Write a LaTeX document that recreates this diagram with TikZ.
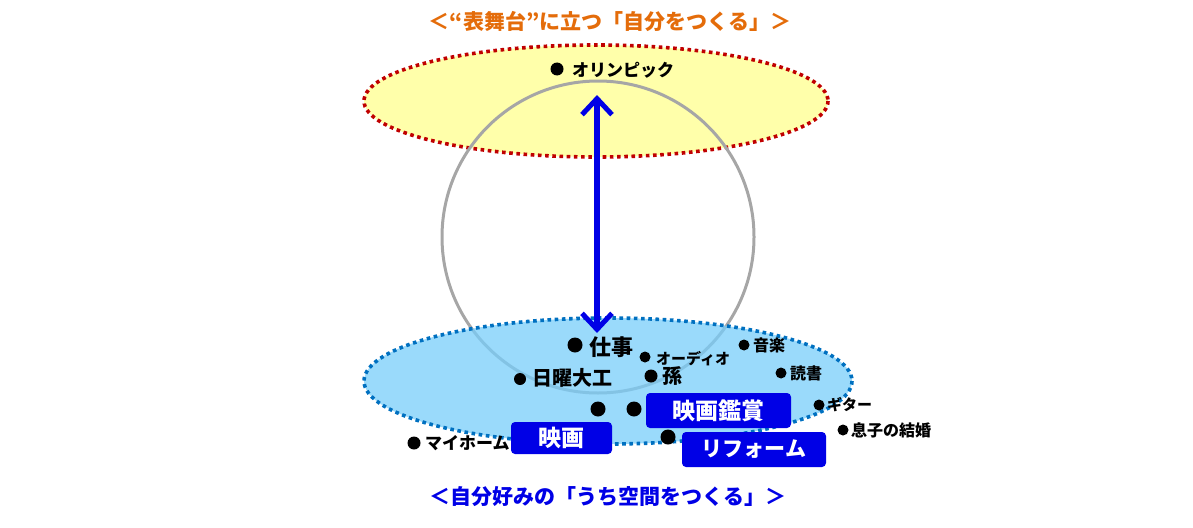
\documentclass[tikz,border=0pt]{standalone}
\usepackage{fontspec}
\setmainfont{Noto Sans CJK JP}
\usetikzlibrary{arrows.meta}
\definecolor{ttlorange}{RGB}{228,108,10}
\definecolor{ttlblue}{RGB}{0,0,230}
\definecolor{yfill}{RGB}{255,255,170}
\definecolor{ydot}{RGB}{192,0,0}
\definecolor{bfill}{RGB}{120,205,250}
\definecolor{bdot}{RGB}{0,112,192}
\definecolor{cgray}{RGB}{166,166,166}
\definecolor{boxblue}{RGB}{0,0,230}
\newcommand{\fs}[1]{\fontsize{#1}{#1}\selectfont\bfseries}
\tikzset{
  pdot/.style={circle,fill=black,inner sep=0pt,minimum size=#1},
  lbl/.style={anchor=west,inner sep=0pt,font=\fs{#1}},
  bbox/.style={draw=none,fill=boxblue,rounded corners=4pt,text=white,font=\fs{21},inner sep=0pt},
  ellb/.style={line width=3.6pt,dash pattern=on 3.6pt off 3.6pt},
  barb/.tip={Straight Barb[length=16pt,width=30pt,line width=5pt]},
}
\begin{document}
\begin{tikzpicture}[x=1pt,y=-1pt]
\useasboundingbox (0,0) rectangle (1193,527);
% yellow ellipse
\draw[ellb,draw=ydot,fill=yfill] (596,101) ellipse [x radius=232, y radius=56];
% gray circle
\draw[cgray,line width=3pt] (598,237) circle [radius=156];
% blue ellipse
\draw[ellb,draw=bdot,fill=bfill,fill opacity=0.75] (608,381) ellipse [x radius=244, y radius=63];
% titles
\node[font=\fs{21},text=ttlorange] (ttop) at (610,21) {＜“表舞台”に立つ「自分をつくる」＞};
\node[font=\fs{21},text=ttlblue] (tbot) at (608,497) {＜自分好みの「うち空間をつくる」＞};
% arrow
\coordinate (atop) at (597,95);
\coordinate (abot) at (597,333);
\draw[boxblue,line width=6pt,{barb}-{barb}] (atop) -- (abot);
% labels
\node[pdot=13pt] (d1) at (557,69) {};
\node[lbl=17] (l1) at (572,70) {オリンピック};
\node[pdot=15pt] (d2) at (575,345) {};
\node[lbl=22] (l2) at (589,347) {仕事};
\node[pdot=11pt] (d3) at (645,357) {};
\node[lbl=15] (l3) at (656,359) {オーディオ};
\node[pdot=11pt] (d4) at (744,345) {};
\node[lbl=16] (l4) at (753,345) {音楽};
\node[pdot=11pt] (d5) at (781,373) {};
\node[lbl=16] (l5) at (790,373) {読書};
\node[pdot=12pt] (d6) at (520,379) {};
\node[lbl=20] (l6) at (532,378) {日曜大工};
\node[pdot=13pt] (d7) at (651,376) {};
\node[lbl=20] (l7) at (662,376) {孫};
\node[pdot=15pt] (d8) at (598,409) {};
\node[pdot=15pt] (d9) at (634,409) {};
\node[pdot=11pt] (d10) at (819,405) {};
\node[lbl=15] (l10) at (827,405) {ギター};
\node[pdot=11pt] (d11) at (843,430) {};
\node[lbl=16] (l11) at (851,430) {息子の結婚};
\node[pdot=13pt] (d12) at (414,443) {};
\node[lbl=17] (l12) at (425,443) {マイホーム};
\node[pdot=15pt] (d13) at (668,437) {};
% boxes
\node[bbox,font=\fs{23},minimum width=145pt,minimum height=35pt] (b1) at (718.5,410.5) {映画鑑賞};
\node[bbox,font=\fs{23},minimum width=101pt,minimum height=32pt] (b2) at (561.5,438) {映画};
\node[bbox,minimum width=144pt,minimum height=35pt] (b3) at (754,449.5) {リフォーム};
\end{tikzpicture}
\end{document}
